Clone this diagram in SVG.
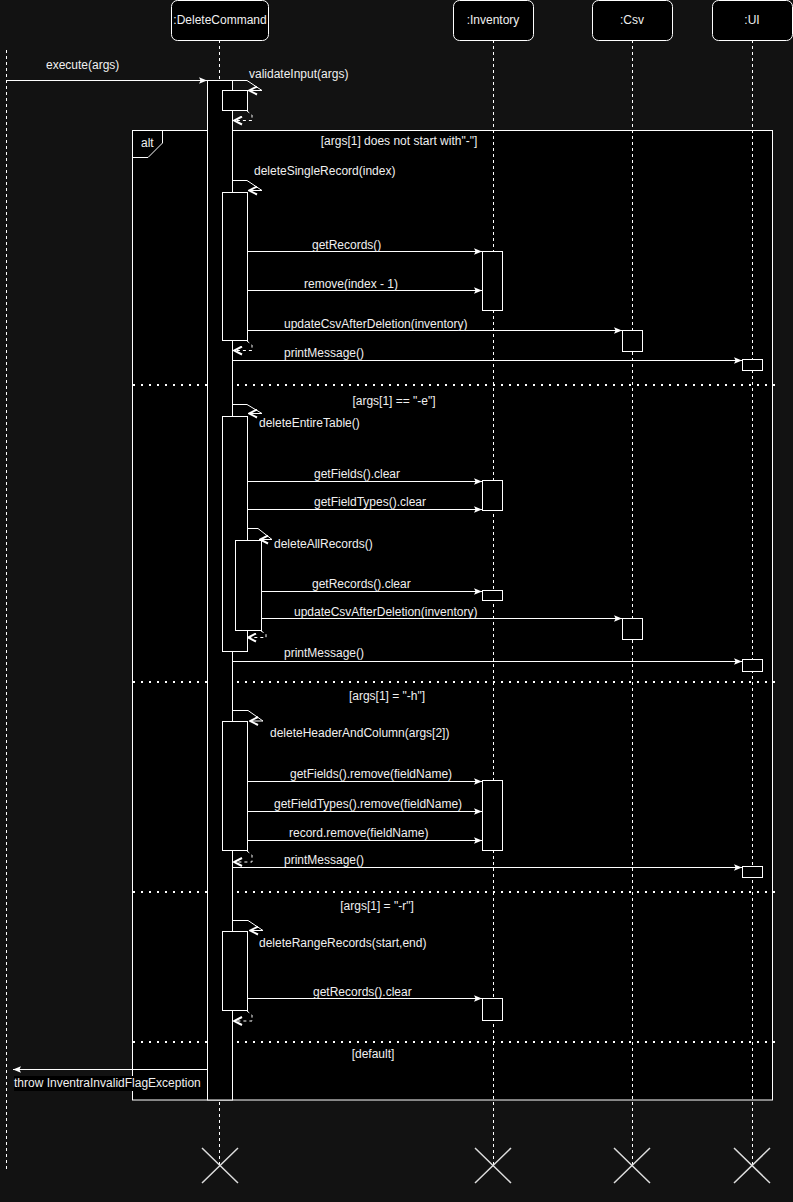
<svg xmlns="http://www.w3.org/2000/svg" width="793" height="1202" viewBox="0 0 793 1202">
<defs>
<style>
.t{font-family:"Liberation Sans",Arial,sans-serif;font-size:12px;fill:#f0f0f0}
.mid{text-anchor:middle}
.box{fill:#000;stroke:#fff;stroke-width:1}
.life{stroke:#fff;stroke-width:1;stroke-dasharray:3 3;fill:none}
.act{fill:#000;stroke:#fff;stroke-width:1}
.msg{stroke:#fff;stroke-width:1;fill:none;marker-end:url(#block)}
.self{stroke:#fff;stroke-width:1;fill:none;marker-end:url(#open)}
.ret{stroke:#fff;stroke-width:1;fill:none;stroke-dasharray:3 3;marker-end:url(#open)}
.sep{stroke:#fff;stroke-width:2;stroke-dasharray:2 6;fill:none}
.x{stroke:#ddd;stroke-width:1.5}
</style>
<marker id="block" viewBox="0 0 10 10" refX="10" refY="5" markerWidth="8" markerHeight="8" markerUnits="userSpaceOnUse" orient="auto">
<path d="M0,1 L10,5 L0,9 L2,5 z" fill="#fff"/>
</marker>
<marker id="open" viewBox="0 0 10 10" refX="9" refY="5" markerWidth="10" markerHeight="10" markerUnits="userSpaceOnUse" orient="auto">
<path d="M1,1 L9,5 L1,9" fill="none" stroke="#fff" stroke-width="2"/>
</marker>
</defs>
<rect x="0" y="0" width="793" height="1202" fill="#121212"/>

<g id="alt-frame">
<rect x="132.5" y="130.5" width="640" height="969.5" fill="#000" stroke="#fff" stroke-width="1"/>
<path d="M132.5,130.5 L162.5,130.5 L162.5,143 L148,157.5 L132.5,157.5" fill="none" stroke="#fff" stroke-width="1"/>
<text class="t" x="141" y="147">alt</text>
<text class="t mid" x="399" y="145">[args[1] does not start with"-"]</text>
<line class="sep" x1="133" y1="385" x2="780" y2="385"/>
<text class="t mid" x="394" y="405">[args[1] == "-e"]</text>
<line class="sep" x1="133" y1="682" x2="780" y2="682"/>
<text class="t mid" x="387" y="700">[args[1] = "-h"]</text>
<line class="sep" x1="133" y1="892" x2="780" y2="892"/>
<text class="t mid" x="377" y="910">[args[1] = "-r"]</text>
<line class="sep" x1="133" y1="1042" x2="780" y2="1042"/>
<text class="t mid" x="373" y="1058">[default]</text>
</g>

<g id="lifelines">
<line class="life" x1="6.5" y1="50" x2="6.5" y2="1170"/>
<line class="life" x1="219.5" y1="40" x2="219.5" y2="1165"/>
<line class="life" x1="493.5" y1="40" x2="493.5" y2="1165"/>
<line class="life" x1="632.5" y1="40" x2="632.5" y2="1165"/>
<line class="life" x1="752.5" y1="40" x2="752.5" y2="1165"/>
</g>

<g id="DeleteCommand">
<rect class="box" x="171.5" y="0.5" width="97" height="40" rx="6"/>
<text class="t mid" x="220" y="24">:DeleteCommand</text>
<rect class="act" x="207.5" y="80.5" width="25" height="1019.5"/>
<rect class="act" x="222.5" y="90.5" width="25" height="20"/>
<rect class="act" x="222.5" y="192.5" width="25" height="148"/>
<rect class="act" x="222.5" y="416.5" width="25" height="235"/>
<rect class="act" x="235.5" y="540.5" width="26" height="90"/>
<rect class="act" x="222.5" y="721.5" width="25" height="129"/>
<rect class="act" x="222.5" y="931.5" width="25" height="79"/>
</g>

<g id="Inventory">
<rect class="box" x="453.5" y="0.5" width="80" height="40" rx="6"/>
<text class="t mid" x="493" y="24">:Inventory</text>
<rect class="act" x="482.5" y="251.5" width="20" height="59"/>
<rect class="act" x="482.5" y="480.5" width="20" height="30"/>
<rect class="act" x="482.5" y="590.5" width="20" height="10"/>
<rect class="act" x="482.5" y="780.5" width="20" height="70"/>
<rect class="act" x="482.5" y="998.5" width="20" height="22"/>
</g>

<g id="Csv">
<rect class="box" x="592.5" y="0.5" width="80" height="40" rx="6"/>
<text class="t mid" x="632" y="24">:Csv</text>
<rect class="act" x="622.5" y="330.5" width="20" height="21"/>
<rect class="act" x="622.5" y="618.5" width="20" height="21"/>
</g>

<g id="UI">
<rect class="box" x="712.5" y="0.5" width="80" height="40" rx="6"/>
<text class="t mid" x="752" y="24">:UI</text>
<rect class="act" x="742.5" y="359.5" width="20" height="11"/>
<rect class="act" x="742.5" y="659.5" width="20" height="12"/>
<rect class="act" x="742.5" y="866.5" width="20" height="11"/>
</g>

<g id="connectors">
<line class="msg" x1="7" y1="80.5" x2="207" y2="80.5"/>
<text class="t" x="46" y="69">execute(args)</text>

<polyline class="self" points="232,80.5 247,80.5 262,90.5 249,90.5"/>
<text class="t" x="249" y="78">validateInput(args)</text>
<path class="ret" d="M247,111 L252,115 L252,120.5 L234,120.5"/>

<polyline class="self" points="232,180.5 247,180.5 262,190.5 249,190.5"/>
<text class="t" x="254" y="175">deleteSingleRecord(index)</text>
<line class="msg" x1="247" y1="251.5" x2="482" y2="251.5"/>
<text class="t" x="312" y="249">getRecords()</text>
<line class="msg" x1="247" y1="290.5" x2="482" y2="290.5"/>
<text class="t" x="304" y="288">remove(index - 1)</text>
<line class="msg" x1="247" y1="330.5" x2="622" y2="330.5"/>
<text class="t" x="284" y="328">updateCsvAfterDeletion(inventory)</text>
<path class="ret" d="M247,341 L252,345 L252,350.5 L234,350.5"/>
<line class="msg" x1="232" y1="360.5" x2="742" y2="360.5"/>
<text class="t" x="284" y="357">printMessage()</text>

<polyline class="self" points="232,404.5 247,404.5 262,413.5 249,413.5"/>
<text class="t" x="259" y="427">deleteEntireTable()</text>
<line class="msg" x1="247" y1="481.5" x2="482" y2="481.5"/>
<text class="t" x="314" y="478">getFields().clear</text>
<line class="msg" x1="247" y1="509.5" x2="482" y2="509.5"/>
<text class="t" x="314" y="506">getFieldTypes().clear</text>
<polyline class="self" points="247,528.5 258,528.5 272,539.5 260,539.5"/>
<text class="t" x="274" y="548">deleteAllRecords()</text>
<line class="msg" x1="261" y1="591.5" x2="482" y2="591.5"/>
<text class="t" x="312" y="588">getRecords().clear</text>
<line class="msg" x1="261" y1="618.5" x2="622" y2="618.5"/>
<text class="t" x="294" y="616">updateCsvAfterDeletion(inventory)</text>
<path class="ret" d="M261,631 L266,634 L266,637.5 L248,637.5"/>
<line class="msg" x1="232" y1="661.5" x2="742" y2="661.5"/>
<text class="t" x="284" y="657">printMessage()</text>

<polyline class="self" points="232,710.5 248,710.5 263,721 250,721"/>
<text class="t" x="270" y="737">deleteHeaderAndColumn(args[2])</text>
<line class="msg" x1="247" y1="781.5" x2="482" y2="781.5"/>
<text class="t" x="290" y="778">getFields().remove(fieldName)</text>
<line class="msg" x1="247" y1="811.5" x2="482" y2="811.5"/>
<text class="t" x="274" y="808">getFieldTypes().remove(fieldName)</text>
<line class="msg" x1="247" y1="840.5" x2="482" y2="840.5"/>
<text class="t" x="289" y="837">record.remove(fieldName)</text>
<path class="ret" d="M247,851 L252,855 L252,862 L234,862"/>
<line class="msg" x1="232" y1="867.5" x2="742" y2="867.5"/>
<text class="t" x="284" y="864">printMessage()</text>

<polyline class="self" points="232,920.5 248,920.5 263,930.5 250,930.5"/>
<text class="t" x="259" y="947">deleteRangeRecords(start,end)</text>
<line class="msg" x1="247" y1="998.5" x2="482" y2="998.5"/>
<text class="t" x="313" y="996">getRecords().clear</text>
<path class="ret" d="M247,1011 L252,1015 L252,1021 L234,1021"/>

<line class="msg" x1="207" y1="1069.5" x2="13" y2="1069.5"/>
<rect x="14" y="1076" width="187" height="15" fill="#000"/>
<text class="t" x="14" y="1087">throw InventraInvalidFlagException</text>
</g>

<g id="destroy-markers">
<path class="x" d="M202,1148 L238,1183 M238,1148 L202,1183"/>
<path class="x" d="M475,1148 L511,1183 M511,1148 L475,1183"/>
<path class="x" d="M614,1148 L650,1183 M650,1148 L614,1183"/>
<path class="x" d="M734,1148 L770,1183 M770,1148 L734,1183"/>
</g>
</svg>
